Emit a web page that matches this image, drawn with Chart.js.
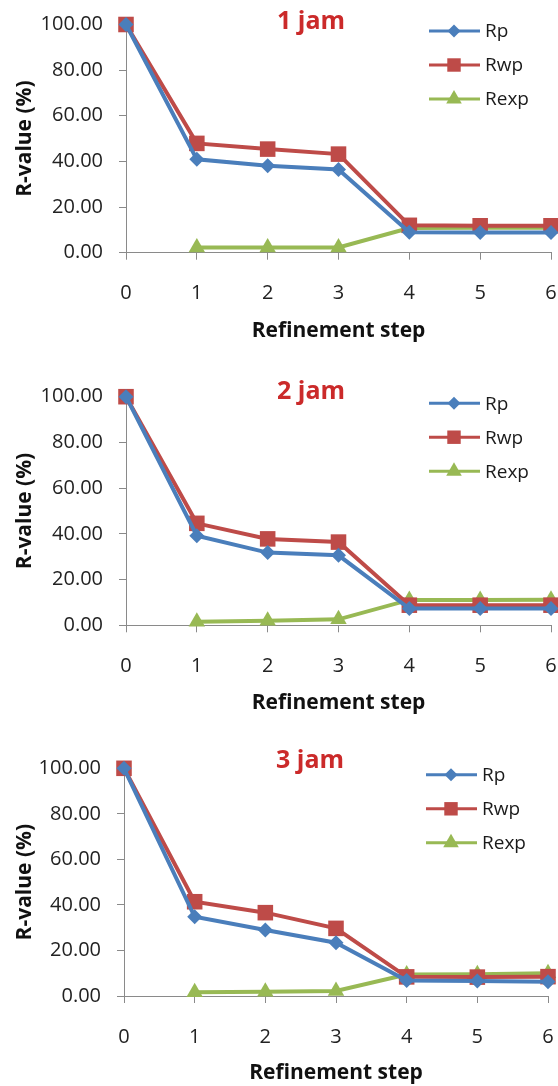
<!DOCTYPE html>
<html>
<head>
<meta charset="utf-8">
<script src="https://cdn.jsdelivr.net/npm/chart.js@4.4.1/dist/chart.umd.min.js"></script>
<style>
  html, body { margin: 0; padding: 0; background: #ffffff; }
  body { width: 558px; height: 1086px; position: relative; overflow: hidden; }
  canvas { position: absolute; left: 0; display: block; }
</style>
</head>
<body>
<canvas id="c1" width="562" height="362" style="top:0px"></canvas>
<canvas id="c2" width="562" height="372" style="top:362px"></canvas>
<canvas id="c3" width="562" height="352" style="top:734px"></canvas>
<script>
// ---- data ----
const steps = ['0', '1', '2', '3', '4', '5', '6'];
const seriesNames = ['Rp', 'Rwp', 'Rexp'];
const panelTitles = ['1 jam', '2 jam', '3 jam'];

const rp1   = [100, 40.9, 38.1, 36.5, 9.0, 8.8, 8.8];
const rwp1  = [100, 47.9, 45.4, 43.2, 12.0, 11.8, 11.8];
const rexp1 = [null, 2.3, 2.3, 2.3, 10.8, 10.9, 10.9];

const rp2   = [100, 39.2, 31.8, 30.6, 7.3, 7.3, 7.3];
const rwp2  = [100, 44.6, 37.8, 36.4, 8.8, 8.8, 8.8];
const rexp2 = [null, 1.5, 2.0, 2.6, 11.1, 11.1, 11.2];

const rp3   = [100, 34.8, 29.0, 23.4, 6.8, 6.6, 6.3];
const rwp3  = [100, 41.4, 36.6, 29.7, 8.4, 8.3, 8.5];
const rexp3 = [null, 1.6, 1.9, 2.2, 9.4, 9.6, 10.0];

const yTickStep = 20;
const yMin = 0, yMax = 100;

// ---- styles ----
const BLUE = '#4A7EBB', RED = '#BE4B48', GREEN = '#98B954';
const AXIS = '#8a8a8a';
const TITLE_RED = '#CB2A2A';
const FONT = "'Open Sans', 'DejaVu Sans', sans-serif";

function drawMarker(ctx, style, x, y, r, color) {
  ctx.save();
  ctx.fillStyle = color;
  ctx.beginPath();
  if (style === 'rectRot') {
    ctx.moveTo(x - r, y); ctx.lineTo(x, y - r); ctx.lineTo(x + r, y); ctx.lineTo(x, y + r);
  } else if (style === 'rect') {
    const s = Math.SQRT1_2 * r;
    ctx.rect(x - s, y - s, 2 * s, 2 * s);
  } else {
    const h = r;
    ctx.moveTo(x, y - h);
    ctx.lineTo(x + Math.sin(2 * Math.PI / 3) * h, y - Math.cos(2 * Math.PI / 3) * h);
    ctx.lineTo(x + Math.sin(4 * Math.PI / 3) * h, y - Math.cos(4 * Math.PI / 3) * h);
  }
  ctx.closePath();
  ctx.fill();
  ctx.restore();
}

const overlayPlugin = {
  id: 'overlay',
  afterDraw(chart, args, opts) {
    const ctx = chart.ctx;
    const ca = chart.chartArea;
    ctx.save();
    ctx.font = "bold 25px " + FONT;
    ctx.fillStyle = TITLE_RED;
    ctx.textAlign = 'center';
    ctx.textBaseline = 'middle';
    ctx.fillText(opts.title, ca.left + opts.titleDx, ca.top + opts.titleDy);
    ctx.restore();
    const legendSizes = [6.5, 9.5, 9];
    chart.data.datasets.forEach((ds, i) => {
      const cx = ca.right - opts.legDx;
      const cy = ca.top + opts.legDy + i * 34;
      ctx.save();
      ctx.strokeStyle = ds.borderColor;
      ctx.lineWidth = 3;
      ctx.beginPath();
      ctx.moveTo(cx - 25, cy); ctx.lineTo(cx + 26, cy);
      ctx.stroke();
      drawMarker(ctx, ds.pointStyle, cx, cy, legendSizes[i], ds.borderColor);
      ctx.font = "19px " + FONT;
      ctx.fillStyle = '#1a1a1a';
      ctx.textAlign = 'left';
      ctx.textBaseline = 'middle';
      ctx.fillText(ds.label, cx + 31, cy + 1);
      ctx.restore();
    });
  }
};

function makeChart(id, title, rp, rwp, rexp, g) {
  const tickFont = { family: FONT, size: 20 };
  const titleFont = { family: FONT, size: 21, weight: 'bold' };
  return new Chart(document.getElementById(id), {
    type: 'line',
    data: {
      labels: steps,
      datasets: [
        { label: seriesNames[0], data: rp, borderColor: BLUE, backgroundColor: BLUE,
          pointStyle: 'rectRot', pointRadius: 7.5, borderWidth: 4, pointBorderWidth: 0, clip: false },
        { label: seriesNames[1], data: rwp, borderColor: RED, backgroundColor: RED,
          pointStyle: 'rect', pointRadius: 11, borderWidth: 4, pointBorderWidth: 0, clip: false },
        { label: seriesNames[2], data: rexp, borderColor: GREEN, backgroundColor: GREEN,
          pointStyle: 'triangle', pointRadius: 9.5, borderWidth: 4, pointBorderWidth: 0, clip: false }
      ]
    },
    options: {
      responsive: false,
      animation: false,
      events: [],
      layout: { padding: { top: g.top, right: g.right, left: 0, bottom: 0 } },
      plugins: {
        legend: { display: false },
        tooltip: { enabled: false },
        title: { display: false },
        overlay: { title: title, titleDx: g.titleDx, titleDy: g.titleDy, legDx: 97, legDy: 6.5 }
      },
      scales: {
        x: {
          type: 'category',
          offset: false,
          grid: { display: true, drawOnChartArea: false, drawTicks: true, tickLength: 7, color: AXIS, lineWidth: 1 },
          border: { display: true, color: AXIS, width: 1 },
          ticks: { font: tickFont, color: '#222', padding: g.xpad, maxRotation: 0, autoSkip: false },
          title: { display: true, text: 'Refinement step', font: titleFont, color: '#111',
                   padding: { top: 0, bottom: g.xtb } },
          afterFit: (s) => { s.height = g.xh; s.paddingLeft = 0; s.paddingRight = 0; }
        },
        y: {
          min: yMin, max: yMax,
          grid: { display: true, drawOnChartArea: false, drawTicks: true, tickLength: 7, color: AXIS, lineWidth: 1 },
          border: { display: true, color: AXIS, width: 1 },
          ticks: { stepSize: yTickStep, font: tickFont, color: '#222', padding: 16,
                   callback: (v) => Number(v).toFixed(2) },
          title: { display: true, text: 'R-value (%)', font: { family: FONT, size: 21, weight: 'bold' }, color: '#111',
                   padding: { top: 12, bottom: 0 } },
          afterFit: (s) => { s.width = g.left; s.paddingTop = 0; s.paddingBottom = 0; }
        }
      }
    },
    plugins: [overlayPlugin]
  });
}

makeChart('c1', panelTitles[0], rp1, rwp1, rexp1,
  { top: 24.5, right: 11, left: 126, xh: 362 - 252.7, xpad: 22, xtb: 18, titleDx: 185, titleDy: -2.5 });
makeChart('c2', panelTitles[1], rp2, rwp2, rexp2,
  { top: 34.7, right: 11, left: 126, xh: 372 - 263.3, xpad: 22, xtb: 18, titleDx: 185, titleDy: -5 });
makeChart('c3', panelTitles[2], rp3, rwp3, rexp3,
  { top: 34.3, right: 14, left: 124, xh: 352 - 262, xpad: 22, xtb: 0, titleDx: 186, titleDy: -7.6 });
</script>
</body>
</html>
